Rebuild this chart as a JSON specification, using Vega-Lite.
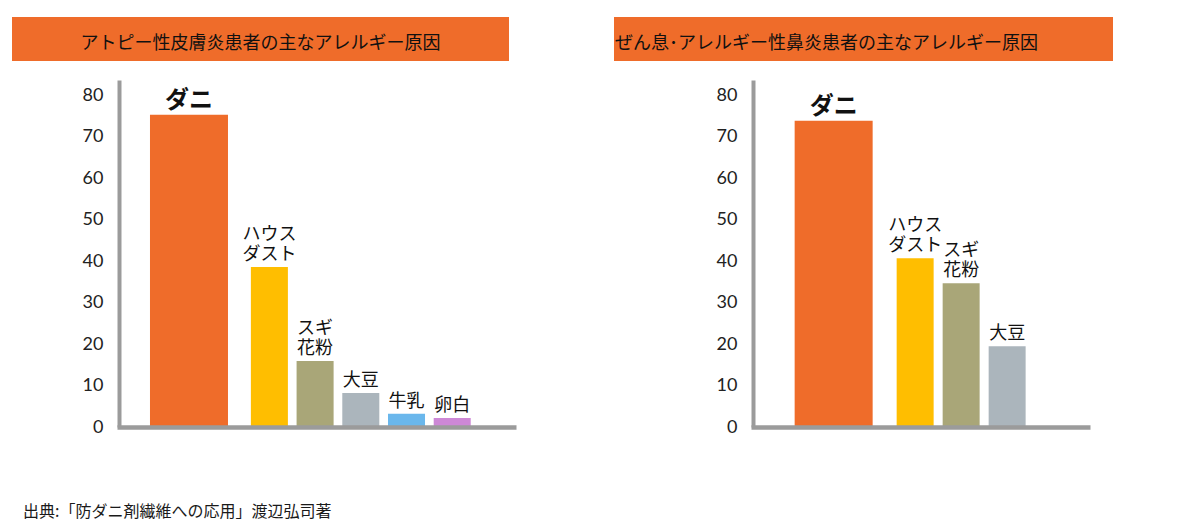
{
  "$schema": "https://vega.github.io/schema/vega-lite/v6.json",
  "background": "white",
  "padding": {"left": 12, "top": 17, "right": 0, "bottom": 10},
  "title": {
    "text": "出典:「防ダニ剤繊維への応用」渡辺弘司著",
    "orient": "bottom",
    "anchor": "start",
    "frame": "bounds",
    "font": "Noto Sans CJK JP",
    "fontSize": 16,
    "fontWeight": "normal",
    "color": "#1a1a1a",
    "offset": 68,
    "dx": 11
  },
  "config": {
    "view": {"stroke": null},
    "text": {"font": "Noto Sans CJK JP"}
  },
  "spacing": 98,
  "resolve": {"scale": {"x": "independent", "y": "independent", "color": "independent"}},
  "hconcat": [
    {
      "spacing": 19,
      "vconcat": [
        {
          "width": 497,
          "height": 44,
          "view": {"fill": "#EF6C2A", "stroke": null},
          "data": {"values": [{"t": "アトピー性皮膚炎患者の主なアレルギー原因"}]},
          "mark": {"type": "text", "fontSize": 18, "color": "#111111", "baseline": "middle", "dy": 5},
          "encoding": {"text": {"field": "t", "type": "nominal"}}
        },
        {
          "width": 504,
          "height": 347,
          "data": {
            "values": [
              {"item": "ダニ", "line1": "", "line2": "ダニ", "value": 75.3},
              {"item": "ハウスダスト", "line1": "ハウス", "line2": "ダスト", "value": 38.6},
              {"item": "スギ花粉", "line1": "スギ", "line2": "花粉", "value": 15.9},
              {"item": "大豆", "line1": "", "line2": "大豆", "value": 8.2},
              {"item": "牛乳", "line1": "", "line2": "牛乳", "value": 3.2},
              {"item": "卵白", "line1": "", "line2": "卵白", "value": 2.2}
            ]
          },
          "encoding": {
            "x": {
              "field": "item",
              "type": "nominal",
              "sort": null,
              "scale": {
                "domain": ["ダニ", " ", "ハウスダスト", "スギ花粉", "大豆", "牛乳", "卵白"],
                "range": [105, 504],
                "paddingInner": 0.19,
                "paddingOuter": 0.96,
                "align": 0.484
              },
              "axis": {"labels": false, "ticks": false, "domainColor": "#9B9B9B", "domainWidth": 4.5, "title": null, "zindex": 1}
            },
            "y": {
              "field": "value",
              "type": "quantitative",
              "scale": {"domain": [0, 83.7], "nice": false},
              "axis": {
                "values": [0, 10, 20, 30, 40, 50, 60, 70, 80],
                "offset": -107,
                "domainColor": "#9B9B9B",
                "domainWidth": 4,
                "ticks": false,
                "grid": false,
                "labelPadding": 16,
                "labelFont": "Lato",
                "labelFontSize": 18,
                "labelColor": "#222222",
                "title": null,
                "zindex": 1
              }
            },
            "color": {
              "field": "item",
              "type": "nominal",
              "scale": {
                "domain": ["ダニ", "ハウスダスト", "スギ花粉", "大豆", "牛乳", "卵白"],
                "range": ["#EF6C2A", "#FFBE00", "#A9A678", "#ABB5BC", "#6AB7EC", "#CD88D6"]
              },
              "legend": null
            }
          },
          "layer": [
            {
              "transform": [{"filter": "datum.item !== 'ダニ'"}],
              "mark": {"type": "bar"}
            },
            {
              "transform": [{"filter": "datum.item === 'ダニ'"}],
              "mark": {"type": "bar", "width": 78, "xOffset": 11}
            },
            {
              "transform": [{"filter": "datum.item !== 'ダニ'"}],
              "mark": {"type": "text", "fontSize": 18, "baseline": "bottom", "dy": -3},
              "encoding": {"text": {"field": "line2", "type": "nominal"}, "color": {"value": "#111111"}}
            },
            {
              "transform": [{"filter": "datum.item !== 'ダニ'"}],
              "mark": {"type": "text", "fontSize": 18, "baseline": "bottom", "dy": -23},
              "encoding": {"text": {"field": "line1", "type": "nominal"}, "color": {"value": "#111111"}}
            },
            {
              "transform": [{"filter": "datum.item === 'ダニ'"}],
              "mark": {"type": "text", "fontSize": 24, "fontWeight": "bold", "baseline": "bottom", "dy": -2, "xOffset": 11},
              "encoding": {"text": {"field": "line2", "type": "nominal"}, "color": {"value": "#111111"}}
            }
          ]
        }
      ]
    },
    {
      "spacing": 19,
      "vconcat": [
        {
          "width": 499,
          "height": 44,
          "view": {"fill": "#EF6C2A", "stroke": null},
          "data": {"values": [{"t": "ぜん息･アレルギー性鼻炎患者の主なアレルギー原因"}]},
          "mark": {"type": "text", "fontSize": 18, "color": "#111111", "baseline": "middle", "align": "left", "dy": 5},
          "encoding": {"text": {"field": "t", "type": "nominal"}, "x": {"value": 1}}
        },
        {
          "width": 476,
          "height": 347,
          "data": {
            "values": [
              {"item": "ダニ", "line1": "", "line2": "ダニ", "value": 73.9},
              {"item": "ハウスダスト", "line1": "ハウス", "line2": "ダスト", "value": 40.7},
              {"item": "スギ花粉", "line1": "スギ", "line2": "花粉", "value": 34.7},
              {"item": "大豆", "line1": "", "line2": "大豆", "value": 19.5}
            ]
          },
          "encoding": {
            "x": {
              "field": "item",
              "type": "nominal",
              "sort": null,
              "scale": {
                "domain": ["ダニ", " ", "ハウスダスト", "スギ花粉", "大豆", "  "],
                "range": [137, 476],
                "paddingInner": 0.196,
                "paddingOuter": 0.783,
                "align": 0.745
              },
              "axis": {"labels": false, "ticks": false, "domainColor": "#9B9B9B", "domainWidth": 4.5, "title": null, "zindex": 1}
            },
            "y": {
              "field": "value",
              "type": "quantitative",
              "scale": {"domain": [0, 83.7], "nice": false},
              "axis": {
                "values": [0, 10, 20, 30, 40, 50, 60, 70, 80],
                "offset": -139,
                "domainColor": "#9B9B9B",
                "domainWidth": 4,
                "ticks": false,
                "grid": false,
                "labelPadding": 16,
                "labelFont": "Lato",
                "labelFontSize": 18,
                "labelColor": "#222222",
                "title": null,
                "zindex": 1
              }
            },
            "color": {
              "field": "item",
              "type": "nominal",
              "scale": {
                "domain": ["ダニ", "ハウスダスト", "スギ花粉", "大豆", "牛乳", "卵白"],
                "range": ["#EF6C2A", "#FFBE00", "#A9A678", "#ABB5BC", "#6AB7EC", "#CD88D6"]
              },
              "legend": null
            }
          },
          "layer": [
            {
              "transform": [{"filter": "datum.item !== 'ダニ'"}],
              "mark": {"type": "bar"}
            },
            {
              "transform": [{"filter": "datum.item === 'ダニ'"}],
              "mark": {"type": "bar", "width": 78, "xOffset": 10.5}
            },
            {
              "transform": [{"filter": "datum.item !== 'ダニ'"}],
              "mark": {"type": "text", "fontSize": 18, "baseline": "bottom", "dy": -3},
              "encoding": {"text": {"field": "line2", "type": "nominal"}, "color": {"value": "#111111"}}
            },
            {
              "transform": [{"filter": "datum.item !== 'ダニ'"}],
              "mark": {"type": "text", "fontSize": 18, "baseline": "bottom", "dy": -23},
              "encoding": {"text": {"field": "line1", "type": "nominal"}, "color": {"value": "#111111"}}
            },
            {
              "transform": [{"filter": "datum.item === 'ダニ'"}],
              "mark": {"type": "text", "fontSize": 24, "fontWeight": "bold", "baseline": "bottom", "dy": -2, "xOffset": 10.5},
              "encoding": {"text": {"field": "line2", "type": "nominal"}, "color": {"value": "#111111"}}
            }
          ]
        }
      ]
    }
  ]
}
